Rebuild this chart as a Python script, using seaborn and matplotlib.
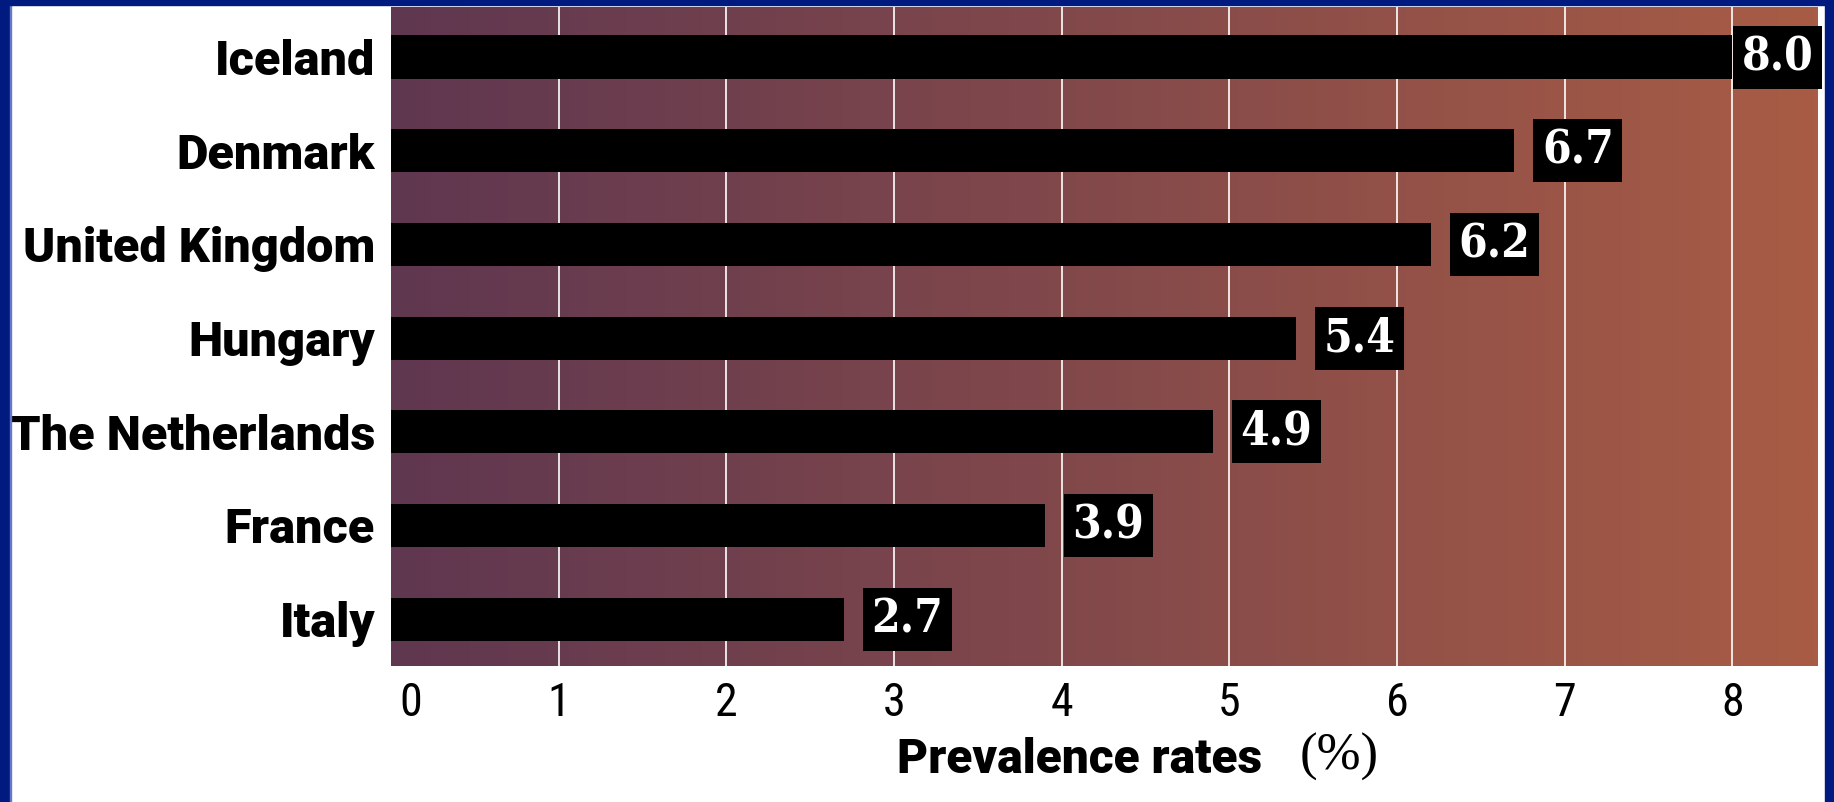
import numpy as np
import pandas as pd
import matplotlib
matplotlib.use("Agg")
import matplotlib.pyplot as plt
import matplotlib.transforms as mtransforms
from matplotlib.colors import LinearSegmentedColormap
from matplotlib.patches import Rectangle
import seaborn as sns

# Prevalence by country (%)
countries = ["Iceland", "Denmark", "United Kingdom", "Hungary",
             "The Netherlands", "France", "Italy"]
prevalence = [8.0, 6.7, 6.2, 5.4, 4.9, 3.9, 2.7]
x_ticks = [0, 1, 2, 3, 4, 5, 6, 7, 8]

df = pd.DataFrame({"country": countries, "prevalence": prevalence})

sns.set_theme(style="white")
plt.rcParams["font.family"] = ["Roboto", "DejaVu Sans"]

DPI = 100
W, H = 1834, 802
fig = plt.figure(figsize=(W / DPI, H / DPI), dpi=DPI, facecolor="white")

left, right, top, bottom = 391, 1818, 7, 666
rect = [left / W, 1 - bottom / H, (right - left) / W, (bottom - top) / H]

# gradient backdrop behind the bars
bg_ax = fig.add_axes(rect, zorder=0)
bg_cmap = LinearSegmentedColormap.from_list("bg", ["#5F3750", "#A85C45"])
bg_ax.imshow(np.linspace(0, 1, 512).reshape(1, -1), cmap=bg_cmap,
             aspect="auto", extent=(0, 1, 0, 1))
bg_ax.set_axis_off()

ax = fig.add_axes(rect, zorder=1)
ax.patch.set_alpha(0)

sns.barplot(data=df, x="prevalence", y="country", orient="h", color="black",
            saturation=1, width=0.46, edgecolor="none", ax=ax)

ax.set_xlim(0, 8.51)
ax.set_ylim(6.5, -0.534)
ax.vlines(x_ticks[1:], 6.5, -0.534, colors="white", linewidth=1.2, zorder=0.5)

for s in ax.spines.values():
    s.set_visible(False)

ax.set_xticks(x_ticks)
ax.set_xticklabels([str(t) for t in x_ticks])
ax.tick_params(axis="x", length=0, pad=11, labelcolor="black")
ax.tick_params(axis="y", length=0, pad=11.5, labelcolor="black")
for lab in ax.get_xticklabels():
    lab.set_fontfamily(["Roboto Condensed", "DejaVu Sans"])
    lab.set_fontsize(33)
for lab in ax.get_yticklabels():
    lab.set_fontfamily(["Roboto", "DejaVu Sans"])
    lab.set_fontweight(900)
    lab.set_fontsize(35)
ax.set_xlabel("")
ax.set_ylabel("")

# nudge the zero label off the left edge
zero_lab = ax.get_xticklabels()[0]
zero_lab.set_transform(zero_lab.get_transform() +
                       mtransforms.ScaledTranslation(0.2, 0, fig.dpi_scale_trans))

# value boxes
fs_val = 33
em_px = fs_val * DPI / 72
pad_px = 8.5
gap_px = 19
labels = []
for i, v in enumerate(prevalence):
    t = ax.annotate(f"{v:.1f}", xy=(v, i),
                    xytext=((gap_px + pad_px) * 72 / DPI, 0),
                    textcoords="offset points", ha="left", va="center",
                    fontsize=fs_val, fontweight="bold", family="DejaVu Serif",
                    fontstretch="condensed", color="white", zorder=3,
                    bbox=dict(boxstyle=f"square,pad={pad_px / em_px}",
                              fc="black", ec="none"))
    labels.append(t)

# keep boxes inside the plotting area
fig.canvas.draw()
renderer = fig.canvas.get_renderer()
limit = right + 4
for t in labels:
    bb = t.get_bbox_patch().get_window_extent(renderer)
    over = bb.x1 - limit
    if over > 0:
        dx, dy = t.xyann
        t.xyann = (dx - over * 72 / DPI, dy)

# axis title
base_y = 1 - 773 / H
fig.text(897 / W, base_y, "Prevalence rates", fontsize=34.5, fontweight=900,
         family=["Roboto", "DejaVu Sans"],
         ha="left", va="baseline", color="black")
fig.text(1300 / W, base_y + 3 / H, "(%)", fontsize=38, family="Liberation Serif",
         ha="left", va="baseline", color="black")

# blue frame
blue = "#001A80"
fig.patches.append(Rectangle((0, 0), 10 / W, 1, transform=fig.transFigure,
                             color=blue, zorder=10))
fig.patches.append(Rectangle((10 / W, 0), 1 / W, 1, transform=fig.transFigure,
                             color="#6478C8", zorder=10))
fig.patches.append(Rectangle((0, 1 - 5 / H), 1, 5 / H, transform=fig.transFigure,
                             color=blue, zorder=10))
fig.patches.append(Rectangle((1825 / W, 0), 9 / W, 1, transform=fig.transFigure,
                             color=blue, zorder=10))

fig.savefig("out.png", dpi=DPI, facecolor="white")
